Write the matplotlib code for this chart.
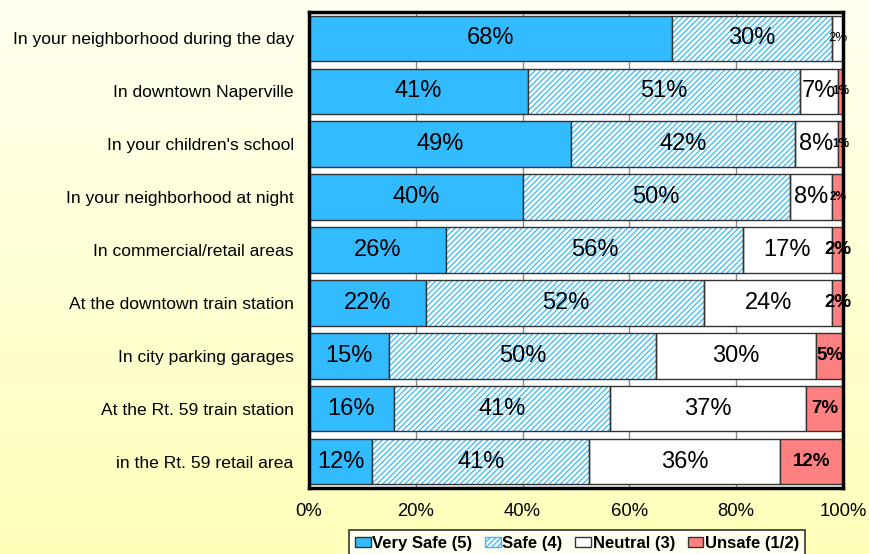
import numpy as np
import matplotlib.pyplot as plt
from matplotlib.patches import Patch

plt.rcParams['font.family'] = ['Liberation Sans', 'DejaVu Sans']
plt.rcParams['hatch.linewidth'] = 0.9

categories = [
    "In your neighborhood during the day",
    "In downtown Naperville",
    "In your children's school",
    "In your neighborhood at night",
    "In commercial/retail areas",
    "At the downtown train station",
    "In city parking garages",
    "At the Rt. 59 train station",
    "in the Rt. 59 retail area",
]
very_safe = [68, 41, 49, 40, 26, 22, 15, 16, 12]
safe = [30, 51, 42, 50, 56, 52, 50, 41, 41]
neutral = [2, 7, 8, 8, 17, 24, 30, 37, 36]
unsafe = [0, 1, 1, 2, 2, 2, 5, 7, 12]
series_names = ["Very Safe (5)", "Safe (4)", "Neutral (3)", "Unsafe (1/2)"]

# label font sizes per row (style only)
neutral_label_size = [9.5, 17, 17, 17, 17, 17, 17, 17, 17]
unsafe_label_size = [8.5, 8.5, 8.5, 8.5, 13.5, 13.5, 13.5, 13.5, 13.5]

c_vs = '#33BBFF'
c_safe_hatch = '#33BBFF'
c_unsafe = '#FF8080'
edge = '#333333'

fig = plt.figure(figsize=(8.69, 5.54), dpi=100)

# yellow gradient background
bg = fig.add_axes([0, 0, 1, 1], zorder=-10)
top = np.array([1.0, 1.0, 0.94])
bot = np.array([1.0, 1.0, 0.73])
t = np.linspace(0, 1, 256)[:, None]
grad = top[None, :] * (1 - t) + bot[None, :] * t
bg.imshow(grad[:, None, :], aspect='auto', extent=[0, 1, 0, 1])
bg.axis('off')

ax = fig.add_axes([309 / 869, 1 - 488 / 554, (843 - 309) / 869, (488 - 12) / 554])
ax.set_facecolor('white')

data = np.array([very_safe, safe, neutral, unsafe], dtype=float)
frac = data / data.sum(axis=0)
y = np.arange(len(categories))
h = 0.86

left = np.zeros(len(categories))
ax.barh(y, frac[0], left=left, height=h, color=c_vs, edgecolor=edge, linewidth=1, zorder=2)
left += frac[0]
ax.barh(y, frac[1], left=left, height=h, color='white', edgecolor=c_safe_hatch,
        hatch='//////', linewidth=0, zorder=2)
ax.barh(y, frac[1], left=left, height=h, fill=False, edgecolor=edge, linewidth=1, zorder=3)
left += frac[1]
ax.barh(y, frac[2], left=left, height=h, color='white', edgecolor=edge, linewidth=1, zorder=2)
left += frac[2]
ax.barh(y, frac[3], left=left, height=h, color=c_unsafe, edgecolor=edge, linewidth=1, zorder=2)

# labels
for i in range(len(categories)):
    x0 = 0
    for s in range(4):
        w = frac[s, i]
        v = int(data[s, i])
        if v > 0:
            cx = x0 + w / 2
            if s < 2:
                ax.text(cx, y[i], f"{v}%", ha='center', va='center', fontsize=17, zorder=5)
            elif s == 2:
                ax.text(cx, y[i], f"{v}%", ha='center', va='center',
                        fontsize=neutral_label_size[i], zorder=5, clip_on=False)
            else:
                ax.text(cx, y[i], f"{v}%", ha='center', va='center', fontweight='bold',
                        fontsize=unsafe_label_size[i], zorder=5, clip_on=False)
        x0 += w

ax.set_xlim(0, 1)
ax.set_ylim(len(categories) - 0.5, -0.5)
ax.set_yticks(y)
ax.set_yticklabels(categories, fontsize=12.6)
ax.set_xticks(np.linspace(0, 1, 6))
ax.set_xticklabels([f"{int(v)}%" for v in np.linspace(0, 100, 6)], fontsize=13.3)
ax.tick_params(axis='both', length=0)
ax.tick_params(axis='x', pad=11)
ax.tick_params(axis='y', pad=11)
ax.xaxis.grid(True, color='#888888', linewidth=1, zorder=0)
ax.set_axisbelow(True)
for sp in ax.spines.values():
    sp.set_linewidth(2.5)
    sp.set_color('black')

handles = [
    Patch(facecolor=c_vs, edgecolor=edge, label=series_names[0]),
    Patch(facecolor='white', edgecolor=c_safe_hatch, hatch='//////', label=series_names[1]),
    Patch(facecolor='white', edgecolor=edge, label=series_names[2]),
    Patch(facecolor=c_unsafe, edgecolor=edge, label=series_names[3]),
]
leg = fig.legend(handles=handles, loc='upper center', bbox_to_anchor=(577 / 869, 1 - 530 / 554),
                 ncol=4, frameon=True, fancybox=False, edgecolor='black',
                 prop={'weight': 'bold', 'size': 12}, handlelength=0.95, handleheight=0.6,
                 handletextpad=0.1, columnspacing=0.75, borderpad=0.35, borderaxespad=0)
leg.get_frame().set_linewidth(1.2)

fig.savefig('out.png', dpi=100)
